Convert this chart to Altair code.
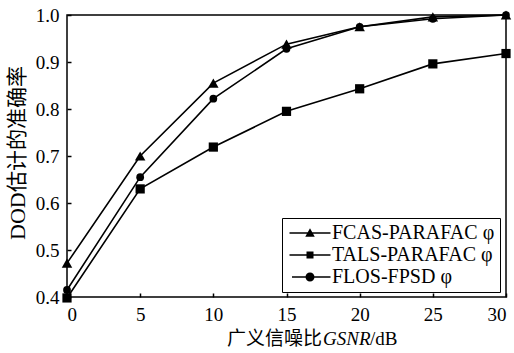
import altair as alt
import pandas as pd

snr = [0, 5, 10, 15, 20, 25, 30]
fcas = [0.472, 0.700, 0.855, 0.938, 0.975, 0.996, 1.000]
tals = [0.398, 0.630, 0.719, 0.795, 0.843, 0.896, 0.918]
flos = [0.415, 0.655, 0.822, 0.928, 0.975, 0.992, 1.000]
series = ["FCAS-PARAFAC φ", "TALS-PARAFAC φ", "FLOS-FPSD φ"]
y_ticks = [0.4, 0.5, 0.6, 0.7, 0.8, 0.9, 1.0]

rows = []
for name, vals in zip(series, [fcas, tals, flos]):
    for s, v in zip(snr, vals):
        rows.append({"snr": s, "acc": v, "series": name})
df = pd.DataFrame(rows)

SERIF = "Liberation Serif"
CJK = "Noto Sans CJK SC"

x_enc = alt.X("snr:Q", scale=alt.Scale(domain=[0, 30], nice=False, zero=False),
              axis=alt.Axis(values=snr, format="d", title=None, domain=False, grid=False,
                            tickSize=4, offset=-4, tickColor="black", tickWidth=1.5,
                            labelPadding=8, labelFont=SERIF, labelFontSize=19,
                            labelColor="black"))
y_enc = alt.Y("acc:Q", scale=alt.Scale(domain=[0.4, 1.0], nice=False, zero=False),
              axis=alt.Axis(values=y_ticks, format=".1f", title=None, domain=False, grid=False,
                            tickSize=4, offset=-4, tickColor="black", tickWidth=1.5,
                            labelPadding=8, labelFont=SERIF, labelFontSize=19,
                            labelColor="black"))

lines = alt.Chart(df).mark_line(color="black", strokeWidth=1.6).encode(
    x=x_enc, y=y_enc, detail="series:N")

points = alt.Chart(df).mark_point(filled=True, color="black", opacity=1).encode(
    x=x_enc, y=y_enc,
    shape=alt.Shape("series:N", scale=alt.Scale(domain=series, range=["triangle-up", "square", "circle"]), legend=None),
    size=alt.Size("series:N", scale=alt.Scale(domain=series, range=[110, 60, 95]), legend=None),
)

# legend glyphs: a thin bar (the line) plus the marker
leg_paths = [
    "M-4.1,-0.16H4.1V0.16H-4.1ZM0,-0.95L0.95,0.75L-0.95,0.75Z",
    "M-4.1,-0.16H4.1V0.16H-4.1ZM-0.7,-0.7H0.7V0.7H-0.7Z",
    "M-3.6,-0.16H4.1V0.16H-3.6ZM0.9,0A0.9,0.9,0,1,1,-0.9,0A0.9,0.9,0,1,1,0.9,0Z",
]
legend_layer = alt.Chart(df).mark_point(filled=True, color="black", opacity=0).encode(
    x=x_enc, y=y_enc,
    shape=alt.Shape("series:N", scale=alt.Scale(domain=series, range=leg_paths),
                    legend=alt.Legend(title=None, orient="none", legendX=215, legendY=203,
                                      strokeColor="black", fillColor="white", padding=5,
                                      symbolSize=100, symbolStrokeWidth=0,
                                      symbolFillColor="black", symbolStrokeColor="black",
                                      symbolOpacity=1, symbolOffset=13, labelOffset=12,
                                      labelFont=SERIF, labelFontSize=20, labelColor="black",
                                      rowPadding=2, labelLimit=300)),
)

one = alt.Data(values=[{}])
xt1 = alt.Chart(one).mark_text(text="广义信噪比", font=CJK, fontSize=19,
                               align="right", baseline="middle", color="black").encode(
    x=alt.value(255), y=alt.value(324))
xt2 = alt.Chart(one).mark_text(text="GSNR", font=SERIF, fontSize=19, fontStyle="italic",
                               align="left", baseline="middle", color="black").encode(
    x=alt.value(256), y=alt.value(324))
xt3 = alt.Chart(one).mark_text(text="/dB", font=SERIF, fontSize=19,
                               align="left", baseline="middle", color="black").encode(
    x=alt.value(303), y=alt.value(324))
yt1 = alt.Chart(one).mark_text(text="DOD", font=SERIF, fontSize=22, angle=270,
                               align="left", baseline="middle", color="black").encode(
    x=alt.value(-49), y=alt.value(225))
yt2 = alt.Chart(one).mark_text(text="估计的准确率", font=CJK, fontSize=21, angle=270,
                               align="left", baseline="middle", color="black").encode(
    x=alt.value(-49), y=alt.value(177))

chart = alt.layer(lines, points, legend_layer, xt1, xt2, xt3, yt1, yt2).resolve_scale(
    shape="independent", size="independent"
).properties(
    width=439, height=282,
    background="white",
    autosize=alt.AutoSizeParams(type="none"),
    padding={"left": 67, "top": 15, "right": 8, "bottom": 56},
).configure_view(stroke="black", strokeWidth=1.5).configure_axis(labelFont=SERIF)

chart.save("out.html", embed_options={"renderer": "svg", "actions": False})
